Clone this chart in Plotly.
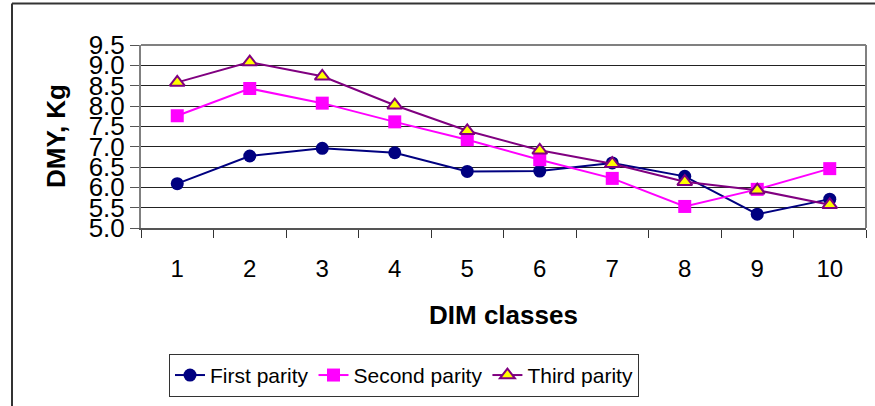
import plotly.graph_objects as go

categories = [1, 2, 3, 4, 5, 6, 7, 8, 9, 10]
first_parity = [6.09, 6.77, 6.96, 6.85, 6.39, 6.40, 6.60, 6.27, 5.34, 5.71]
second_parity = [7.76, 8.43, 8.07, 7.61, 7.17, 6.68, 6.22, 5.53, 5.95, 6.46]
third_parity = [8.58, 9.08, 8.73, 8.02, 7.39, 6.91, 6.58, 6.14, 5.93, 5.57]
y_ticks = [5.0, 5.5, 6.0, 6.5, 7.0, 7.5, 8.0, 8.5, 9.0, 9.5]

W, H = 875, 406
ML, MR, MT, MB = 141, 9, 45, 176
PW, PH = W - ML - MR, H - MT - MB

def px_x(x):
    return (x - ML) / PW

def px_y(y):
    return (H - MB - y) / PH

FONT = "Liberation Sans, Arial, sans-serif"

fig = go.Figure()
fig.add_trace(go.Scatter(
    x=categories, y=first_parity, name="First parity", mode="lines+markers",
    line=dict(color="#000080", width=2),
    marker=dict(symbol="circle", size=13, color="#000080"),
))
fig.add_trace(go.Scatter(
    x=categories, y=second_parity, name="Second parity", mode="lines+markers",
    line=dict(color="#FF00FF", width=2),
    marker=dict(symbol="square", size=13, color="#FF00FF"),
))
fig.add_trace(go.Scatter(
    x=categories, y=third_parity, name="Third parity", mode="lines+markers",
    line=dict(color="#800080", width=2),
    marker=dict(symbol="triangle-up", size=13, color="#FFFF00",
                line=dict(color="#800080", width=2)),
))

fig.update_layout(
    width=W, height=H,
    margin=dict(l=ML, r=MR, t=MT, b=MB),
    paper_bgcolor="white", plot_bgcolor="white",
    font=dict(family=FONT, color="black"),
    showlegend=True,
    legend=dict(
        orientation="h", x=px_x(404), xanchor="center",
        y=px_y(379), yanchor="middle",
        bordercolor="#333333", borderwidth=1,
        font=dict(size=21, family=FONT),
        itemwidth=30, tracegroupgap=0,
    ),
    xaxis=dict(
        range=[0.5, 10.5], tickvals=categories, ticktext=[str(c) for c in categories],
        ticks="outside", ticklen=18, tickcolor="rgba(0,0,0,0)",
        minor=dict(ticks="outside", tick0=0.5, dtick=1, ticklen=8, tickcolor="#333333",
                   showgrid=False),
        showline=True, linecolor="#555555", linewidth=2, mirror=False,
        showgrid=False, zeroline=False,
        tickfont=dict(size=24, family=FONT),
    ),
    yaxis=dict(
        range=[5.0, 9.5], tickvals=y_ticks, tickformat=".1f",
        ticks="outside", ticklen=9, tickcolor="#555555",
        showline=True, linecolor="#808080", linewidth=2, mirror=False,
        showgrid=True, gridcolor="#222222", gridwidth=1, zeroline=False,
        tickfont=dict(size=26, family=FONT),
    ),
    shapes=[
        dict(type="line", xref="paper", yref="paper", x0=0, x1=1, y0=1, y1=1,
             line=dict(color="#808080", width=2)),
        dict(type="line", xref="paper", yref="paper", x0=1, x1=1, y0=0, y1=1,
             line=dict(color="#808080", width=2)),
        dict(type="line", xref="paper", yref="paper", x0=px_x(12), x1=px_x(W + 5),
             y0=px_y(3), y1=px_y(3), line=dict(color="#333333", width=2)),
        dict(type="line", xref="paper", yref="paper", x0=px_x(12), x1=px_x(12),
             y0=px_y(3), y1=px_y(H + 5), line=dict(color="#333333", width=2)),
    ],
    annotations=[
        dict(text="<b>DMY, Kg</b>", xref="paper", yref="paper",
             x=px_x(56), y=px_y(137), xanchor="center", yanchor="middle",
             textangle=-90, showarrow=False, font=dict(size=26, family=FONT)),
        dict(text="<b>DIM classes</b>", xref="paper", yref="paper",
             x=px_x(503), y=px_y(318), xanchor="center", yanchor="middle",
             showarrow=False, font=dict(size=26, family=FONT)),
    ],
)

fig.write_html("out.html", config={"displayModeBar": False},
               post_script="document.body.style.margin='0';document.body.style.overflow='hidden';")
